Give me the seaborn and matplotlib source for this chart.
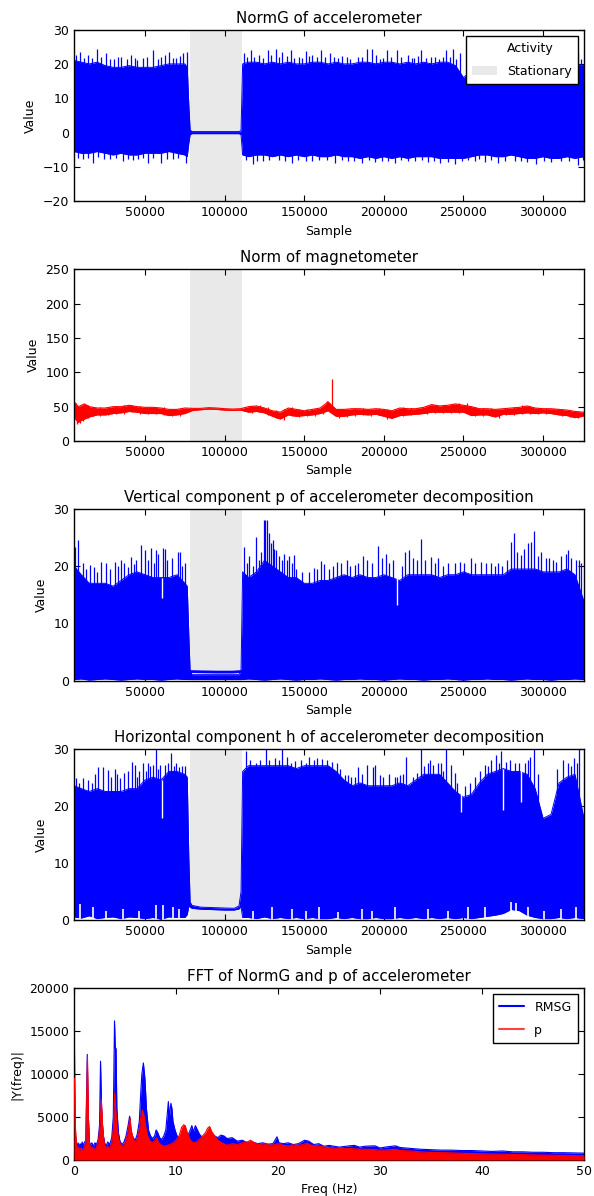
import matplotlib
matplotlib.use("Agg")
import matplotlib.pyplot as plt
import seaborn as sns
from matplotlib.patches import Patch
from matplotlib.lines import Line2D

# ---------------- data ----------------
X_ACC = [5500, 10000, 15000, 20000, 25000, 30000, 35000, 40000, 45000, 50000,
         55000, 60000, 65000, 70000, 75000, 76500, 77500, 78300, 79500, 85000,
         90000, 95000, 100000, 106000, 109000, 110300, 111300, 115000, 120000, 125000,
         130000, 135000, 140000, 145000, 150000, 155000, 160000, 165000, 170000, 175000,
         180000, 185000, 190000, 195000, 200000, 205000, 210000, 215000, 220000, 225000,
         230000, 235000, 240000, 245000, 250000, 255000, 260000, 265000, 270000, 275000,
         280000, 285000, 290000, 295000, 300000, 305000, 310000, 315000, 320000, 325500]

NORMG_HI = [21.0, 20.5, 20.0, 20.5, 19.5, 19.0, 19.0, 19.5, 19.0, 19.0,
            19.0, 19.5, 20.0, 20.0, 20.0, 19.0, 8.0, 0.8, 0.3, 0.3,
            0.3, 0.3, 0.3, 0.3, 0.3, 0.6, 20.0, 20.5, 20.5, 20.0,
            20.5, 20.0, 20.5, 20.0, 20.0, 20.5, 20.5, 20.0, 20.5, 20.0,
            20.0, 20.5, 20.5, 20.0, 20.5, 20.5, 20.0, 20.5, 20.0, 20.5,
            20.0, 20.5, 20.5, 19.5, 16.0, 18.0, 18.5, 19.0, 19.0, 18.5,
            19.0, 19.0, 18.5, 19.0, 19.0, 18.5, 19.0, 19.5, 20.0, 19.5]
NORMG_LO = [-5.5, -6.0, -6.0, -5.5, -6.0, -6.5, -6.0, -6.5, -6.5, -6.0,
            -6.0, -6.0, -5.5, -6.0, -6.5, -7.0, -3.0, -0.6, -0.3, -0.3,
            -0.3, -0.3, -0.3, -0.3, -0.3, -0.6, -6.5, -7.0, -6.5, -6.5,
            -7.0, -6.5, -7.0, -6.5, -7.0, -6.5, -7.0, -7.0, -6.5, -7.0,
            -7.0, -7.5, -7.0, -7.5, -7.0, -7.5, -7.0, -7.5, -7.0, -7.0,
            -7.0, -7.5, -7.5, -7.5, -7.5, -7.0, -6.5, -6.5, -7.0, -7.0,
            -6.5, -7.0, -7.5, -7.5, -7.0, -7.5, -7.5, -7.0, -7.5, -7.0]
NORMG_SPIKE_X = [6500, 8950, 11500, 14170, 17000, 19810, 22500, 25650, 28000, 30500,
                 33000, 35050, 38500, 41310, 43500, 45000, 48620, 51500, 55300, 58000,
                 60000, 62500, 65330, 67500, 69500, 71800, 73680, 76300, 112300, 114000,
                 116480, 118500, 121700, 124000, 126920, 129000, 132140, 134000, 136320, 139000,
                 141540, 143500, 146760, 148500, 150930, 153000, 155110, 158000, 160330, 163000,
                 166200, 168500, 171500, 174000, 176640, 179000, 183500, 186500, 189170, 192300,
                 195000, 197500, 199500, 201700, 204500, 207960, 211000, 215270, 217500, 219000,
                 221500, 223620, 226500, 229890, 232000, 234500, 237000, 239280, 241500, 243460,
                 245500, 247640, 321760, 323800]
NORMG_SPIKE_Y = [22.5, 23.6, 21.8, 22.6, 21.8, 24.3, 22.0, 23.1, 21.5, 21.5,
                 22.0, 22.1, 21.5, 22.6, 21.8, 21.2, 21.6, 22.0, 24.0, 21.5,
                 22.0, 22.5, 23.4, 21.8, 21.6, 22.2, 23.1, 23.4, 23.1, 22.0,
                 24.0, 22.0, 22.6, 21.8, 24.0, 22.5, 24.3, 22.0, 23.6, 22.2,
                 24.0, 21.8, 22.1, 21.8, 23.8, 22.2, 22.6, 22.0, 24.0, 22.0,
                 23.1, 22.0, 21.8, 22.2, 22.1, 21.5, 22.0, 22.0, 24.2, 24.2,
                 22.5, 21.5, 21.8, 24.0, 22.0, 24.0, 22.0, 22.6, 21.8, 21.8,
                 22.3, 24.0, 21.8, 22.1, 22.0, 21.5, 22.0, 24.0, 22.0, 24.2,
                 21.5, 23.1, 23.1, 21.5]
NORMG_DIP_X = [8000, 11040, 14000, 17300, 20500, 24000, 27740, 32000, 36090, 39000,
               42360, 45500, 48500, 51750, 55000, 60110, 63500, 67410, 71000, 75770,
               113500, 117530, 120500, 123790, 128000, 134230, 138000, 142580, 146000, 150930,
               155000, 159290, 164000, 169340, 173500, 177690, 181500, 186040, 190500, 194500,
               198570, 202500, 206920, 211000, 215270, 219500, 224000, 227800, 231500, 235110,
               240000, 244500, 249000, 253000, 257030, 260000, 263300, 267500, 271650, 276000,
               282090, 286000, 290000, 295660, 300500, 305000, 311320, 316000, 321760, 325000]
NORMG_DIP_Y = [-7.3, -7.7, -7.5, -8.7, -7.2, -7.6, -7.7, -7.4, -8.2, -7.6,
               -8.0, -7.8, -7.3, -8.9, -7.5, -8.7, -7.8, -7.7, -7.5, -8.7,
               -8.0, -9.1, -8.3, -8.2, -8.0, -8.0, -8.2, -8.7, -8.0, -8.2,
               -8.3, -8.0, -8.0, -8.7, -8.1, -8.2, -8.4, -8.9, -8.0, -8.5,
               -8.2, -8.3, -8.7, -8.0, -8.2, -8.4, -8.0, -8.5, -8.3, -8.9,
               -8.5, -9.1, -8.4, -8.0, -8.2, -7.8, -8.5, -8.0, -8.7, -8.2,
               -8.2, -8.3, -8.6, -9.1, -8.3, -8.5, -8.2, -8.2, -9.3, -8.0]

MAG_X = [5500, 8000, 10000, 12000, 15000, 20000, 25000, 30000, 35000, 40000,
         45000, 50000, 55000, 60000, 65000, 70000, 75000, 80000, 85000, 90000,
         95000, 100000, 105000, 110000, 115000, 120000, 125000, 130000, 135000, 140000,
         145000, 150000, 155000, 160000, 165000, 170000, 175000, 180000, 185000, 190000,
         195000, 200000, 205000, 210000, 215000, 220000, 225000, 230000, 235000, 240000,
         245000, 250000, 255000, 260000, 265000, 270000, 275000, 280000, 285000, 290000,
         295000, 300000, 305000, 310000, 315000, 320000, 325000, 325500]
MAG_HI = [57, 50, 52, 54, 50, 48, 48, 50, 50, 52,
          50, 49, 49, 48, 46, 46, 48, 47.5, 47.5, 48.5,
          48, 47, 46.5, 47, 50, 51, 48, 44, 42, 48,
          46, 44, 46, 48, 57, 46, 46, 47, 47, 46,
          47, 46, 44, 48, 47, 47, 49, 53, 51, 52,
          54, 52, 50, 47, 47, 46, 47, 48, 49, 51,
          48, 47, 47, 46, 45, 43, 42, 42]
MAG_LO = [35, 27, 30, 32, 35, 38, 38, 40, 41, 43,
          42, 40, 40, 40, 37, 38, 40, 44.5, 45.5, 46.5,
          46, 45, 44.5, 45, 42, 43, 41, 36, 32, 38,
          36, 37, 38, 40, 44, 36, 36, 38, 39, 38,
          39, 36, 33, 37, 38, 39, 40, 42, 42, 42,
          42, 42, 37, 38, 38, 35, 39, 39, 40, 41,
          40, 41, 40, 38, 37, 34, 36, 37]
MAG_NOISE_X = [6500, 7500, 9000, 11000, 12000, 14000, 17000, 22000, 27000, 32000,
               37000, 42000, 47000, 52000, 57000, 62000, 67000, 72000, 117000, 122000,
               127000, 132000, 137000, 142000, 147000, 152000, 157000, 162000, 164100, 167500,
               172000, 177000, 182000, 187000, 192000, 197000, 202000, 207000, 212000, 217000,
               222000, 227000, 232000, 237000, 242000, 247000, 252000, 257000, 262000, 267000,
               272000, 277000, 282000, 287000, 292000, 297000, 302000, 307000, 312000, 317000,
               322000]
MAG_NOISE_LO = [30, 25, 26, 29, 33, 33, 36, 37, 38, 39,
                40, 42, 40, 39, 39, 38, 36, 37, 41, 42,
                38, 33, 31, 37, 35, 36, 37, 40, 45, 45,
                34, 35, 37, 38, 37, 38, 32, 35, 37, 38,
                39, 40, 41, 41, 41, 41, 42, 36, 37, 37,
                33, 38, 38, 39, 40, 39, 40, 39, 37, 35,
                34]
MAG_NOISE_HI = [55, 48, 48, 53, 54, 52, 50, 49, 50, 51,
                52, 53, 51, 50, 50, 49, 47, 47, 51, 52,
                49, 45, 46, 49, 47, 46, 47, 50, 57.5, 90,
                47, 47, 48, 48, 47, 48, 46, 46, 49, 48,
                48, 51, 53, 52, 53, 55, 55, 50, 48, 48,
                46, 48, 49, 52, 51, 48, 48, 47, 46, 45,
                44]

P_HI = [20.0, 18.5, 17.0, 17.0, 17.0, 16.5, 17.5, 18.5, 19.0, 18.5,
        18.0, 18.0, 18.0, 18.5, 17.0, 16.5, 8.0, 1.7, 1.05, 1.05,
        1.05, 1.05, 1.05, 1.05, 1.05, 1.7, 19.0, 18.0, 19.0, 21.0,
        20.0, 19.0, 18.0, 18.0, 17.0, 17.0, 17.5, 17.5, 18.0, 18.5,
        18.0, 18.5, 18.0, 18.0, 18.5, 18.0, 17.5, 18.5, 18.5, 18.5,
        18.5, 18.0, 18.5, 18.5, 19.0, 18.5, 18.5, 18.5, 18.5, 18.5,
        19.5, 19.5, 19.5, 19.5, 19.0, 19.0, 19.0, 19.5, 18.5, 14.0]
P_LO = [0.2, 0.3, 0.1, 0.2, 0.3, 0.2, 0.1, 0.2, 0.3, 0.2,
        0.2, 0.1, 0.2, 0.3, 0.2, 0.2, 0.2, 0.2, 0.2, 0.2,
        0.2, 0.2, 0.2, 0.2, 0.2, 0.2, 0.2, 0.3, 0.2, 0.1,
        0.2, 0.3, 0.2, 0.1, 0.2, 0.2, 0.3, 0.2, 0.1, 0.2,
        0.2, 0.3, 0.2, 0.2, 0.1, 0.2, 0.3, 0.2, 0.2, 0.1,
        0.2, 0.2, 0.3, 0.2, 0.1, 0.2, 0.2, 0.3, 0.2, 0.2,
        0.1, 0.2, 0.3, 0.2, 0.2, 0.1, 0.2, 0.2, 0.3, 0.2]
P_STAT_X = [78300, 85000, 95000, 105000, 110300]
P_STAT_Y = [1.6, 1.55, 1.5, 1.5, 1.6]
P_SPIKE_X = [5800, 7800, 11000, 13000, 15200, 18000, 20000, 22500, 25650, 28000,
             30900, 33000, 35050, 37000, 39500, 41300, 43000, 44400, 47600, 49700,
             52000, 53800, 55500, 56600, 58000, 61100, 62500, 64000, 67000, 70800,
             71900, 73500, 75000, 112300, 114000, 115440, 117500, 119610, 121700, 123000,
             124830, 125600, 126300, 127970, 129000, 130060, 131000, 132140, 134230, 136000,
             137360, 139000, 140490, 142000, 143620, 145000, 148500, 153000, 156150, 158000,
             160330, 162420, 165500, 168000, 170380, 173000, 176640, 179000, 181860, 184000,
             187080, 189500, 192500, 196480, 199000, 201070, 203500, 205880, 211500, 213180,
             215900, 218000, 221000, 223620, 226000, 229890, 232000, 234060, 237000, 240500,
             244500, 247640, 250500, 254940, 257500, 261210, 264000, 267470, 269500, 271650,
             274500, 277500, 280000, 281670, 283500, 286000, 288000, 290440, 292530, 293990,
             296700, 298500, 301920, 303500, 306000, 308190, 311320, 314450, 315500, 317500,
             320720, 322800, 324000]
P_SPIKE_Y = [23.4, 24.6, 20.5, 19.5, 20.2, 19.8, 19.0, 20.8, 20.5, 19.5,
             20.8, 20.0, 21.0, 20.5, 19.8, 21.6, 20.3, 21.0, 23.7, 22.8,
             21.0, 23.1, 20.5, 22.8, 22.2, 23.1, 23.0, 21.0, 21.5, 22.5,
             22.5, 20.0, 20.5, 23.4, 20.5, 21.7, 20.0, 25.1, 21.0, 22.5,
             28.0, 28.0, 28.0, 25.7, 24.0, 24.5, 23.0, 22.8, 21.7, 21.0,
             22.2, 21.0, 21.7, 20.5, 22.0, 19.5, 19.0, 19.0, 19.7, 19.5,
             20.9, 20.3, 19.5, 20.0, 20.8, 20.5, 21.0, 20.0, 20.2, 20.5,
             21.7, 21.0, 20.5, 23.5, 21.5, 22.2, 20.5, 21.0, 20.0, 22.5,
             22.8, 21.5, 21.0, 24.7, 21.0, 21.6, 20.5, 21.4, 20.0, 20.5,
             20.5, 20.8, 20.5, 21.4, 20.5, 20.8, 20.5, 20.5, 20.0, 20.5,
             20.0, 21.0, 24.2, 25.7, 22.5, 22.0, 23.0, 24.0, 24.3, 26.2,
             21.7, 22.5, 21.4, 21.5, 21.0, 20.8, 21.7, 22.2, 22.8, 21.5,
             21.0, 21.0, 20.5]
P_NOTCH_X = [60730, 208000]
P_NOTCH_LO = [14.4, 13.2]
P_NOTCH_HI = [18.0, 18.0]

H_HI = [23.5, 23.0, 22.5, 23.0, 22.5, 22.5, 22.5, 23.0, 23.0, 24.5,
        25.0, 24.5, 26.0, 26.0, 25.5, 25.0, 11.0, 3.2, 2.6, 2.3,
        2.25, 2.2, 2.15, 2.1, 2.5, 5.0, 26.0, 27.0, 27.0, 27.0,
        27.0, 27.0, 27.0, 26.5, 27.0, 27.0, 27.0, 27.0, 26.0, 24.5,
        23.5, 24.0, 23.5, 23.5, 23.5, 23.5, 24.0, 23.5, 24.5, 25.5,
        25.5, 25.5, 24.0, 22.5, 21.5, 22.0, 24.0, 25.5, 26.0, 26.5,
        26.0, 26.0, 25.5, 23.0, 17.8, 18.5, 24.0, 25.0, 25.5, 18.0]
H_LO = [0.6, 0.4, 0.8, 0.3, 0.5, 0.6, 0.3, 0.6, 0.5, 0.3,
        0.5, 0.2, 0.6, 0.5, 0.5, 1.0, 2.5, 2.3, 2.1, 1.95,
        1.9, 1.85, 1.8, 1.8, 2.0, 2.4, 0.5, 0.5, 0.3, 0.6,
        0.3, 0.5, 0.3, 0.5, 0.3, 0.5, 0.3, 0.3, 0.5, 0.3,
        0.5, 0.3, 0.3, 0.5, 0.3, 0.3, 0.5, 0.3, 0.5, 0.3,
        0.5, 0.3, 0.5, 0.3, 0.5, 0.3, 0.5, 0.7, 0.9, 1.2,
        1.9, 1.7, 0.9, 0.5, 0.3, 0.3, 0.5, 0.3, 0.5, 0.3]
H_SPIKE_X = [6900, 8500, 11000, 14200, 16500, 18500, 20400, 23600, 26700, 28500,
             30900, 32500, 34000, 37100, 39500, 42000, 43400, 45000, 46500, 48600,
             50500, 51800, 53000, 54900, 56600, 58000, 59100, 62800, 64500, 66400,
             68000, 69500, 71600, 73000, 75000, 113300, 116000, 119600, 122000, 125900,
             128000, 131500, 134000, 136300, 139000, 141500, 144000, 148000, 151000, 153000,
             156000, 158000, 161000, 164000, 167250, 170380, 172500, 175600, 177700, 179500,
             181900, 183900, 186500, 189200, 193300, 194400, 197500, 199500, 203500, 206900,
             208000, 210000, 212000, 214200, 218000, 221000, 223600, 225500, 227800, 229000,
             231000, 234100, 236000, 237200, 239300, 242400, 244500, 246000, 251000, 254000,
             257500, 260500, 263300, 265500, 267500, 270600, 272000, 273700, 276900, 279500,
             282100, 285000, 288400, 290400, 292000, 294000, 297000, 309000, 312400, 315500,
             317500, 319700, 321500, 322800]
H_SPIKE_Y = [24.8, 24.0, 24.8, 24.5, 24.0, 25.5, 26.8, 26.7, 26.2, 25.0,
             26.5, 25.5, 24.8, 25.7, 26.0, 27.7, 27.1, 25.0, 26.0, 27.4,
             26.0, 27.4, 27.0, 27.1, 30.0, 26.5, 27.1, 27.1, 27.5, 29.2,
             27.0, 27.4, 26.8, 27.0, 27.0, 29.5, 28.0, 27.4, 28.0, 29.9,
             28.0, 28.3, 28.0, 29.9, 28.5, 27.4, 27.8, 28.0, 27.4, 28.6,
             28.0, 28.3, 28.2, 28.0, 27.7, 27.4, 26.5, 25.4, 25.4, 25.0,
             25.1, 26.8, 25.5, 27.1, 26.8, 27.1, 25.4, 25.0, 25.5, 25.1,
             25.0, 25.4, 25.5, 28.6, 25.0, 25.8, 30.0, 27.0, 27.4, 28.0,
             27.1, 27.4, 27.5, 26.0, 30.0, 27.1, 25.7, 24.0, 23.5, 24.0,
             25.0, 26.0, 27.1, 27.0, 28.0, 28.9, 27.5, 29.5, 27.7, 28.0,
             27.4, 27.5, 27.4, 28.0, 28.5, 30.0, 25.5, 26.5, 28.0, 27.4,
             27.0, 28.3, 27.5, 30.0]
H_NOTCH_X = [60730, 248700, 275000, 286300]
H_NOTCH_LO = [17.8, 18.9, 19.2, 20.7]
H_NOTCH_HI = [24.5, 22.0, 26.5, 26.0]
H_GAP_X = [9000, 17300, 25600, 36000, 46500, 57000, 61000, 67400, 71500, 117500,
           130000, 142500, 150900, 159300, 171400, 186000, 192300, 206900, 227800, 240300,
           252900, 263300, 280000, 283000, 290400, 300800, 311300, 320700]
H_GAP_Y = [2.9, 2.3, 1.7, 2.0, 1.7, 2.6, 2.6, 2.3, 2.0, 1.7,
           2.3, 2.0, 1.7, 2.3, 1.4, 2.0, 1.7, 2.3, 2.0, 1.7,
           2.3, 2.3, 3.2, 3.0, 2.3, 1.7, 2.0, 2.3]

FFT_F_RMSG = [0.0, 0.04, 0.1, 0.2, 0.3, 0.4, 0.5, 0.6, 0.7, 0.8,
              0.9, 1.0, 1.15, 1.25, 1.3, 1.38, 1.5, 1.6, 1.75, 1.9,
              2.05, 2.2, 2.35, 2.5, 2.6, 2.7, 2.85, 3.0, 3.15, 3.3,
              3.5, 3.7, 3.85, 3.97, 4.05, 4.12, 4.2, 4.35, 4.5, 4.7,
              4.9, 5.1, 5.3, 5.45, 5.6, 5.8, 6.0, 6.2, 6.4, 6.55,
              6.65, 6.8, 6.95, 7.1, 7.3, 7.5, 7.7, 7.9, 8.05, 8.2,
              8.4, 8.6, 8.8, 9.0, 9.15, 9.25, 9.35, 9.5, 9.6, 9.7,
              9.9, 10.1, 10.4, 10.7, 11.0, 11.3, 11.55, 11.7, 11.9, 12.1,
              12.3, 12.6, 12.9, 13.2, 13.5, 13.8, 14.1, 14.4, 14.7, 15.0,
              15.5, 16.0, 16.5, 17.0, 17.5, 18.0, 18.5, 19.0, 19.5, 19.9,
              20.1, 20.5, 21.0, 21.5, 22.0, 22.6, 23.0, 23.5, 24.0, 24.5,
              25.0, 26.0, 27.0, 27.5, 28.0, 28.5, 29.5, 30.0, 30.5, 31.5,
              32.0, 32.5, 33.0, 34.0, 35.0, 36.0, 37.0, 38.0, 39.0, 40.0,
              41.0, 42.0, 43.0, 44.0, 45.0, 46.0, 47.0, 48.0, 49.0, 50.0]
FFT_A_RMSG = [14000, 14000, 3500, 2200, 1600, 2000, 1500, 1900, 1600, 2100,
              1700, 2000, 2300, 9000, 12300, 6000, 2200, 1700, 2000, 1600,
              2000, 1800, 2300, 4000, 11500, 6000, 3000, 2000, 1600, 2100,
              1800, 2600, 5000, 16200, 13000, 13000, 6000, 3200, 2200, 1800,
              2100, 2800, 4000, 5100, 3200, 2600, 2300, 3000, 4500, 8000,
              10000, 11300, 9500, 6000, 3500, 2800, 2500, 2800, 3500, 3200,
              2600, 2400, 2800, 3500, 5500, 6800, 5000, 6600, 6000, 4500,
              3500, 2800, 2600, 2900, 2600, 3200, 4000, 3300, 4000, 3500,
              3000, 2600, 2900, 2700, 2500, 2800, 2600, 2900, 2800, 2500,
              2600, 2200, 2300, 2000, 2100, 1900, 2000, 1850, 1900, 2700,
              2000, 1900, 2000, 1800, 1900, 2300, 2200, 1800, 1900, 1600,
              1700, 1500, 1650, 1700, 1500, 1600, 1650, 1400, 1500, 1650,
              1450, 1400, 1350, 1250, 1200, 1150, 1150, 1100, 1100, 1050,
              1000, 1050, 950, 950, 900, 900, 850, 850, 820, 800]
FFT_F_P = [0.0, 0.04, 0.08, 0.15, 0.25, 0.35, 0.45, 0.55, 0.7, 0.85,
           1.0, 1.15, 1.25, 1.32, 1.4, 1.5, 1.65, 1.8, 2.0, 2.2,
           2.4, 2.55, 2.68, 2.8, 2.95, 3.1, 3.3, 3.5, 3.7, 3.85,
           3.98, 4.08, 4.2, 4.35, 4.55, 4.8, 5.0, 5.2, 5.35, 5.5,
           5.6, 5.8, 6.0, 6.2, 6.4, 6.55, 6.7, 6.85, 7.0, 7.2,
           7.45, 7.7, 7.95, 8.1, 8.3, 8.5, 8.8, 9.1, 9.4, 9.7,
           10.0, 10.3, 10.55, 10.75, 10.9, 11.1, 11.4, 11.7, 12.0, 12.3,
           12.6, 12.9, 13.1, 13.3, 13.5, 13.8, 14.1, 14.5, 15.0, 15.5,
           16.0, 16.5, 17.0, 17.3, 17.7, 18.2, 18.7, 19.2, 19.7, 20.0,
           20.5, 21.0, 21.5, 22.0, 22.5, 22.8, 23.3, 24.0, 24.5, 25.0,
           26.0, 27.0, 28.0, 29.0, 30.0, 31.0, 31.5, 32.0, 33.0, 34.0,
           35.0, 36.5, 38.0, 39.5, 41.0, 42.5, 44.0, 45.5, 47.0, 48.5,
           50.0]
FFT_A_P = [9500, 9500, 6000, 3500, 1500, 1200, 1500, 1100, 1400, 1100,
           1500, 2000, 8000, 12000, 5000, 2000, 1300, 1500, 1200, 1500,
           2200, 4000, 7000, 4000, 2000, 1400, 1600, 1300, 2000, 3500,
           7800, 6000, 4000, 2500, 1800, 1500, 2000, 2800, 3800, 4900,
           3500, 2500, 2000, 2500, 3500, 5000, 5800, 5200, 4000, 2800,
           2200, 2000, 2300, 2600, 2000, 1800, 1600, 1700, 1800, 2000,
           2300, 2800, 3800, 4100, 4000, 3200, 2300, 2000, 2100, 2400,
           2800, 3200, 3700, 3900, 3300, 2800, 2300, 2000, 1700, 1900,
           1800, 2000, 2100, 2300, 2000, 1800, 1900, 1700, 1800, 1900,
           1700, 1650, 1750, 1700, 1800, 1950, 1700, 1650, 1500, 1450,
           1350, 1350, 1250, 1250, 1150, 1200, 1250, 1100, 1050, 950,
           870, 850, 780, 740, 700, 660, 620, 580, 550, 520,
           500]

STATIONARY = (78400, 110800)
SAMPLE_LIM = (5400, 325700)

TITLES = ["NormG of accelerometer", "Norm of magnetometer",
          "Vertical component p of accelerometer decomposition",
          "Horizontal component h of accelerometer decomposition",
          "FFT of NormG and p of accelerometer"]

# ---------------- style ----------------
sns.set_style("ticks")
plt.rcParams.update({
    "font.family": ["DejaVu Sans"],
    "font.size": 9,
    "axes.titlesize": 10.8,
    "axes.labelsize": 9,
    "xtick.labelsize": 9,
    "ytick.labelsize": 9,
    "legend.fontsize": 9,
    "xtick.direction": "in",
    "ytick.direction": "in",
    "xtick.top": True,
    "ytick.right": True,
    "xtick.major.size": 4,
    "ytick.major.size": 4,
    "xtick.major.width": 0.8,
    "ytick.major.width": 0.8,
    "axes.edgecolor": "black",
    "axes.linewidth": 1.0,
    "axes.labelcolor": "black",
    "xtick.color": "black",
    "ytick.color": "black",
    "text.color": "black",
    "axes.titlepad": 5,
})

BLUE = "#0000ff"
RED = "#ff0000"
SPAN = "#e9e9e9"

fig, axes = plt.subplots(5, 1, figsize=(5.94, 11.96), dpi=100)
fig.subplots_adjust(left=0.1246, right=0.9832, top=0.9753, bottom=0.0301, hspace=0.395)


def band(ax, x, lo, hi, color, lw=0.7):
    ax.fill_between(x, lo, hi, color=color, lw=0, zorder=2)
    sns.lineplot(x=x, y=hi, ax=ax, color=color, lw=lw, estimator=None, sort=False, legend=False, zorder=2)
    sns.lineplot(x=x, y=lo, ax=ax, color=color, lw=lw, estimator=None, sort=False, legend=False, zorder=2)


def sample_axis(ax, title, ylim, yticks):
    ax.axvspan(*STATIONARY, color=SPAN, lw=0, zorder=0)
    ax.set_xlim(*SAMPLE_LIM)
    ax.set_ylim(*ylim)
    ax.set_yticks(yticks)
    ax.set_xticks([50000, 100000, 150000, 200000, 250000, 300000])
    ax.set_title(title)
    ax.set_xlabel("Sample")
    ax.set_ylabel("Value")


def boxed_legend(ax, handles, labels):
    leg = ax.legend(handles=handles, labels=labels, loc="upper right",
                    fancybox=False, framealpha=1, edgecolor="black",
                    borderaxespad=0.5, labelspacing=0.8, borderpad=0.5)
    leg.get_frame().set_linewidth(1.0)
    leg.set_zorder(5)


# panel 1 : NormG
ax = axes[0]
sample_axis(ax, TITLES[0], (-20, 30), [-20, -10, 0, 10, 20, 30])
band(ax, X_ACC, NORMG_LO, NORMG_HI, BLUE)
ax.vlines(NORMG_SPIKE_X, 0, NORMG_SPIKE_Y, color=BLUE, lw=0.9, zorder=2)
ax.vlines(NORMG_DIP_X, NORMG_DIP_Y, 0, color=BLUE, lw=0.9, zorder=2)
boxed_legend(ax, [Patch(facecolor="white", edgecolor="none"),
                  Patch(facecolor=SPAN, edgecolor="none")],
             ["Activity", "Stationary"])

# panel 2 : magnetometer
ax = axes[1]
sample_axis(ax, TITLES[1], (0, 250), [0, 50, 100, 150, 200, 250])
band(ax, MAG_X, MAG_LO, MAG_HI, RED, lw=0.8)
ax.vlines(MAG_NOISE_X, MAG_NOISE_LO, MAG_NOISE_HI, color=RED, lw=0.9, zorder=2)

# panel 3 : vertical component p
ax = axes[2]
sample_axis(ax, TITLES[2], (0, 30), [0, 10, 20, 30])
band(ax, X_ACC, P_LO, P_HI, BLUE)
sns.lineplot(x=P_STAT_X, y=P_STAT_Y, ax=ax, color=BLUE, lw=2.0, estimator=None, sort=False, legend=False, zorder=2)
ax.vlines(P_SPIKE_X, 1, P_SPIKE_Y, color=BLUE, lw=0.9, zorder=2)
ax.vlines(P_NOTCH_X, P_NOTCH_LO, P_NOTCH_HI, color="white", lw=1.0, zorder=2)

# panel 4 : horizontal component h
ax = axes[3]
sample_axis(ax, TITLES[3], (0, 30), [0, 10, 20, 30])
band(ax, X_ACC, H_LO, H_HI, BLUE)
ax.vlines(H_SPIKE_X, 3, H_SPIKE_Y, color=BLUE, lw=0.9, zorder=2)
ax.vlines(H_NOTCH_X, H_NOTCH_LO, H_NOTCH_HI, color="white", lw=1.0, zorder=2)
ax.vlines(H_GAP_X, 0, H_GAP_Y, color="white", lw=1.2, zorder=2)

# panel 5 : FFT
ax = axes[4]
ax.fill_between(FFT_F_RMSG, 0, FFT_A_RMSG, color=BLUE, lw=0, zorder=2)
sns.lineplot(x=FFT_F_RMSG, y=FFT_A_RMSG, ax=ax, color=BLUE, lw=0.8, estimator=None, sort=False, legend=False, zorder=2)
ax.fill_between(FFT_F_P, 0, FFT_A_P, color=RED, lw=0, zorder=3)
sns.lineplot(x=FFT_F_P, y=FFT_A_P, ax=ax, color=RED, lw=0.8, estimator=None, sort=False, legend=False, zorder=3)
ax.set_xlim(0, 50)
ax.set_ylim(0, 20000)
ax.set_xticks([0, 10, 20, 30, 40, 50])
ax.set_yticks([0, 5000, 10000, 15000, 20000])
ax.set_title(TITLES[4])
ax.set_xlabel("Freq (Hz)")
ax.set_ylabel("|Y(freq)|")
boxed_legend(ax, [Line2D([0], [0], color=BLUE, lw=1.5),
                  Line2D([0], [0], color=RED, lw=1.5, alpha=0.75)],
             ["RMSG", "p"])

fig.savefig("out.png", dpi=100, facecolor="white")
